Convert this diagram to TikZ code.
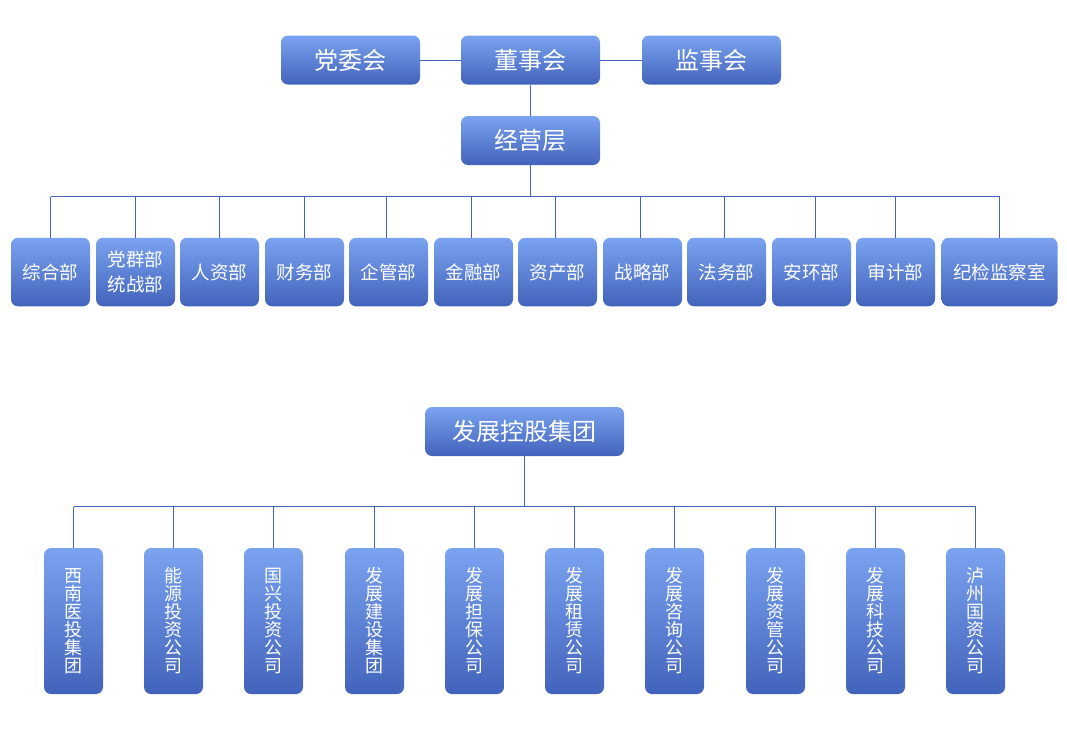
\documentclass[tikz,border=0pt]{standalone}
\usepackage{fontspec}
\setmainfont{Noto Sans CJK SC}
\definecolor{boxtop}{RGB}{122,163,240}
\definecolor{boxbot}{RGB}{66,99,187}
\definecolor{lineblue}{RGB}{64,98,190}
\begin{document}
\begin{tikzpicture}[x=1pt,y=-1pt,
  orgbox/.style={rounded corners=7pt, top color=boxtop, bottom color=boxbot, draw=none,
    text=white, inner sep=0pt, align=center, minimum height=49pt, minimum width=139pt,
    font=\fontsize{24}{28}\selectfont},
  deptbox/.style={orgbox, minimum height=68.5pt, font=\fontsize{18.5}{25}\selectfont},
  subbox/.style={orgbox, minimum height=146pt, minimum width=59pt, font=\fontsize{18}{18}\selectfont},
  conn/.style={draw=lineblue, line width=1pt}]
\useasboundingbox (0,0) rectangle (1067,747);
% top level
\node[orgbox] (dw)  at (350.5,60) {党委会};
\node[orgbox] (dsh) at (530.5,60) {董事会};
\node[orgbox] (jsh) at (711.5,60) {监事会};
\node[orgbox] (jyc) at (530.5,140.5) {经营层};
\draw[conn] (dw) -- (dsh);
\draw[conn] (dsh) -- (jsh);
\draw[conn] (dsh) -- (jyc);
% departments
\coordinate (busL) at (50.5,196.5);
\coordinate (busR) at (999.5,196.5);
\draw[conn] (busL) -- (busR);
\draw[conn] (jyc.south) -- (jyc.south |- busL);
\foreach \n/\cx/\dx/\w/\t in {
  d1/50.5/50.5/79/综合部,
  d2/135.5/135.5/79/{党群部\\统战部},
  d3/219.5/219.5/79/人资部,
  d4/304.5/304.5/79/财务部,
  d5/388.5/386.5/79/企管部,
  d6/473.5/471.5/79/金融部,
  d7/557.5/555.5/79/资产部,
  d8/642.5/640.5/79/战略部,
  d9/726.5/724.5/79/法务部,
  d10/811.5/815.5/79/安环部,
  d11/895.5/895.5/79/审计部,
  d12/999.5/999.5/116/纪检监察室}{
  \node[deptbox, minimum width=\w pt] (\n) at (\cx,272) {\t};
  \coordinate (t\n) at (\dx,196.5);
  \draw[conn] (t\n) -- (t\n |- \n.north);
}
% group
\node[orgbox, minimum width=199pt] (grp) at (524.5,431.5) {发展控股集团};
\coordinate (bL) at (73.5,506.5);
\coordinate (bR) at (975.5,506.5);
\draw[conn] (bL) -- (bR);
\draw[conn] (grp.south) -- (grp.south |- bL);
\foreach \n/\cx/\t in {
  s1/73.5/{西\\南\\医\\投\\集\\团},
  s2/173.5/{能\\源\\投\\资\\公\\司},
  s3/273.5/{国\\兴\\投\\资\\公\\司},
  s4/374.5/{发\\展\\建\\设\\集\\团},
  s5/474.5/{发\\展\\担\\保\\公\\司},
  s6/574.5/{发\\展\\租\\赁\\公\\司},
  s7/674.5/{发\\展\\咨\\询\\公\\司},
  s8/775.5/{发\\展\\资\\管\\公\\司},
  s9/875.5/{发\\展\\科\\技\\公\\司},
  s10/975.5/{泸\\州\\国\\资\\公\\司}}{
  \node[subbox] (\n) at (\cx,621) {\t};
  \draw[conn] (\n.north) -- (\n.north |- bL);
}
\end{tikzpicture}
\end{document}
